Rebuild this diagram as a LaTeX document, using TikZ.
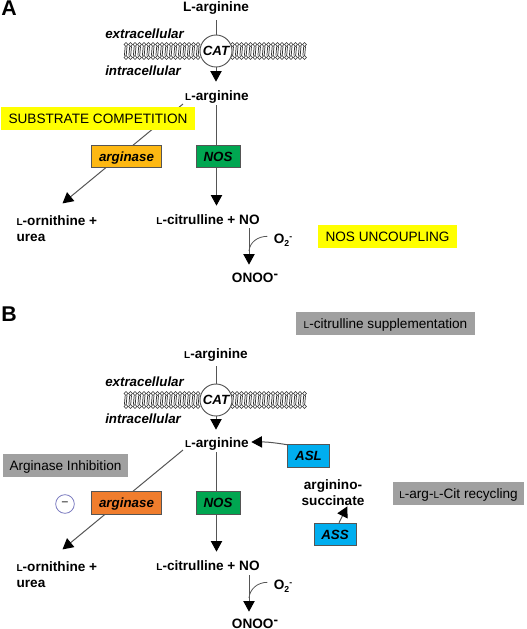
\documentclass[tikz,border=0pt]{standalone}
\usepackage{fontspec}
\setmainfont{Liberation Sans}
\usepackage{tikz}
\usepackage{xcolor}
\usetikzlibrary{arrows.meta,calc,positioning,backgrounds}
\definecolor{hiyellow}{RGB}{255,255,0}
\definecolor{notegray}{RGB}{160,160,160}
\definecolor{argold}{RGB}{253,184,19}
\definecolor{arorange}{RGB}{240,125,45}
\definecolor{nosgreen}{RGB}{0,166,81}
\definecolor{asblue}{RGB}{0,174,239}
\definecolor{linegray}{RGB}{85,85,85}
\newcommand{\smL}{{\fontsize{7.5}{8}\selectfont L}}
\newcommand{\otwo}{O\raisebox{-2pt}{\fontsize{6.5}{7}\selectfont 2}\raisebox{3pt}{\fontsize{6.5}{7}\selectfont -}}
\newcommand{\lipids}[1]{%
  \foreach \x in {126,130.5,...,200,232.5,237,...,307}{
    \draw[black!80,line width=0.4pt,fill=white] (\x,#1-6.5) circle (1.9);
    \draw[black!80,line width=0.4pt,fill=white] (\x,#1+6.5) circle (1.9);
    \draw[black!80,line width=0.55pt] (\x-0.8,#1-4.6)--(\x-1.6,#1+4.6);
    \draw[black!80,line width=0.55pt] (\x+1,#1-4.6)--(\x+0.2,#1+4.6);
  }}
\tikzset{
  metab/.style={font=\bfseries\fontsize{10.2}{12}\selectfont,align=center,inner sep=1pt,yshift=-1pt},
  loc/.style={font=\bfseries\itshape\fontsize{10}{11}\selectfont,inner sep=0pt,anchor=west},
  enzyme/.style={draw=linegray,line width=0.7pt,font=\bfseries\itshape\fontsize{10}{11}\selectfont,inner sep=0pt,minimum height=17pt,text height=7.2pt,text depth=0pt},
  note/.style={font=\fontsize{10.2}{12}\selectfont,inner sep=0pt,minimum height=17pt,text height=7.4pt,text depth=0pt},
  carrier/.style={circle,draw=linegray,fill=white,line width=0.7pt,minimum size=24pt,inner sep=0pt,font=\bfseries\itshape\fontsize{10}{11}\selectfont,text height=7.2pt,text depth=0pt},
  conn/.style={linegray,line width=0.75pt},
  flow/.style={conn,-{Triangle[length=8pt,width=8.5pt,black]},shorten >=-0.5pt},
  panel/.style={font=\bfseries\fontsize{16}{18}\selectfont,inner sep=0pt}
}
\begin{document}
\begin{tikzpicture}[x=0.75pt,y=-0.75pt]
  \useasboundingbox (0,0) rectangle (526,629);
  % panel A
  \node[panel] (labelA) at (9,8) {A};
  \node[metab] (topA) at (216,7) {L-arginine};
  \lipids{51}
  \node[carrier] (catA) at (216,51) {CAT};
  \node[loc] (extraA) at (105,34) {extracellular};
  \node[loc] (intraA) at (105,71) {intracellular};
  \node[metab] (argA) at (217,96) {\smL-arginine};
  \node[enzyme,fill=argold,minimum width=53pt] (arginaseA) at (126.5,156.5) {arginase};
  \node[enzyme,fill=nosgreen,minimum width=33pt] (nosA) at (218,156.5) {NOS};
  \node[metab,align=left,anchor=west] (ornA) at (15,227) {\smL-ornithine +\\urea};
  \node[metab] (citA) at (208,218) {\smL-citrulline + NO};
  \node[metab] (o2A) at (283,239) {\otwo};
  \node[metab] (onooA) at (255,276) {ONOO\raisebox{3pt}{-}};
  \node[note,fill=hiyellow,minimum width=146pt] (subA) at (98,118.5) {SUBSTRATE COMPETITION};
  \node[note,fill=hiyellow,minimum width=104pt] (uncA) at (387.5,236.5) {NOS UNCOUPLING};
  \coordinate (ornOutA) at (183,104);
  \coordinate (ornTipA) at (63,203);
  \coordinate (nosOutA) at (216.5,105);
  \coordinate (citTipA) at (216.5,205);
  \coordinate (onOutA) at (249,228);
  \coordinate (onTipA) at (249,264);
  \coordinate (o2EndA) at (249,251);
  \coordinate (catTipA) at (216,81);
  \begin{scope}[on background layer]
    \draw[conn] (topA.south)++(0,4)--(catA);
    \draw[flow] (catA)--(catTipA);
    \draw[flow] (ornOutA)--(ornTipA);
    \draw[flow] (nosOutA)--(citTipA);
    \draw[flow] (onOutA)--(onTipA);
    \draw[conn,line width=0.6pt] (o2A.west)++(-5,-4) to[out=180,in=85] (o2EndA);
  \end{scope}
  % panel B
  \node[panel] (labelB) at (9,314) {B};
  \node[note,fill=notegray,minimum width=134pt] (citSupB) at (385.5,323.5) {\smL-citrulline supplementation};
  \node[metab] (topB) at (216,354) {\smL-arginine};
  \lipids{400}
  \node[carrier] (catB) at (216,400) {CAT};
  \node[loc] (extraB) at (105,382) {extracellular};
  \node[loc] (intraB) at (105,419) {intracellular};
  \node[metab] (argB) at (217,443) {\smL-arginine};
  \node[note,fill=notegray,minimum width=94pt] (inhB) at (65.5,465.5) {Arginase Inhibition};
  \node[circle,draw=blue!35!gray!80,line width=0.6pt,minimum size=14pt,inner sep=0pt,font=\bfseries\fontsize{9}{9}\selectfont,text=linegray] (minusB) at (65,504) {--};
  \node[enzyme,fill=arorange,minimum width=53pt] (arginaseB) at (126.5,503) {arginase};
  \node[enzyme,fill=nosgreen,minimum width=33pt] (nosB) at (218,503) {NOS};
  \node[metab,align=left,anchor=west] (ornB) at (15,573) {\smL-ornithine +\\urea};
  \node[metab] (citB) at (208,564) {\smL-citrulline + NO};
  \node[metab] (o2B) at (283,585) {\otwo};
  \node[metab] (onooB) at (255,622) {ONOO\raisebox{3pt}{-}};
  \node[enzyme,fill=asblue,minimum width=31pt] (aslB) at (308.5,456) {ASL};
  \node[metab] (succB) at (333,491.5) {arginino-\\succinate};
  \node[enzyme,fill=asblue,minimum width=31.5pt] (assB) at (335,534.5) {ASS};
  \node[note,fill=notegray,minimum width=98pt] (recB) at (458.5,493.5) {\smL-arg-\smL-Cit recycling};
  \coordinate (ornOutB) at (183,450);
  \coordinate (ornTipB) at (63,549);
  \coordinate (nosOutB) at (216.5,452);
  \coordinate (citTipB) at (216.5,551);
  \coordinate (onOutB) at (249,575);
  \coordinate (onTipB) at (249,611);
  \coordinate (o2EndB) at (249,598);
  \coordinate (catTipB) at (216,429);
  \coordinate (aslTipB) at (252,442);
  \coordinate (succTipB) at (347,507);
  \begin{scope}[on background layer]
    \draw[conn] (topB.south)++(0,3)--(catB);
    \draw[flow] (catB)--(catTipB);
    \draw[flow] (ornOutB)--(ornTipB);
    \draw[flow] (nosOutB)--(citTipB);
    \draw[flow] (onOutB)--(onTipB);
    \draw[conn,line width=0.6pt] (o2B.west)++(-5,-4) to[out=180,in=85] (o2EndB);
    \draw[flow] (aslB.152) to[bend right=5] (aslTipB);
    \draw[flow] (assB.north)++(4,0)--(succTipB);
  \end{scope}
\end{tikzpicture}
\end{document}
